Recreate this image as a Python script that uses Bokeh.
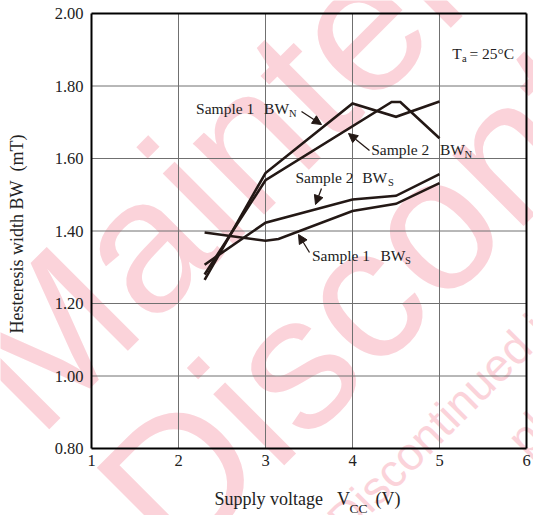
import math

from bokeh.plotting import figure
from bokeh.models import (Label, Arrow, NormalHead, Range1d, FixedTicker,
                          NumeralTickFormatter, LinearAxis)
from bokeh.embed import file_html
from bokeh.resources import INLINE

# ---- measured curves: supply voltage (V) vs hysteresis width (mT) ----
vcc_s1_bwn = [2.3, 3.0, 4.0, 4.5, 5.0]
bw_s1_bwn = [1.265, 1.560, 1.752, 1.715, 1.757]

vcc_s2_bwn = [2.3, 3.0, 4.45, 4.55, 5.0]
bw_s2_bwn = [1.280, 1.540, 1.756, 1.756, 1.656]

vcc_s2_bws = [2.3, 3.0, 4.0, 4.5, 5.0]
bw_s2_bws = [1.307, 1.423, 1.487, 1.497, 1.557]

vcc_s1_bws = [2.3, 3.0, 3.15, 4.0, 4.5, 5.0]
bw_s1_bws = [1.396, 1.373, 1.378, 1.455, 1.475, 1.532]

x_ticks = [1, 2, 3, 4, 5, 6]
y_ticks = [0.80, 1.00, 1.20, 1.40, 1.60, 1.80, 2.00]

# ---- page geometry: the plot box sits inside a full-page canvas ----
W, H = 533, 515
BL, BR, BT, BB = 91, 526, 13, 448          # plot box edges in page pixels
X0, X1, Y0, Y1 = x_ticks[0], x_ticks[-1], y_ticks[0], y_ticks[-1]
SX = (X1 - X0) / (BR - BL)
SY = (Y1 - Y0) / (BB - BT)


def dx(px):
    """page pixel column -> data x"""
    return X0 + (px - BL) * SX


def dy(py):
    """page pixel row -> data y"""
    return Y0 + (BB - py) * SY


SERIF = "Liberation Serif"
INK = "#231815"
TXT = "#222222"
NB = "\u00a0"

p = figure(width=W, height=H, output_backend="svg", toolbar_location=None,
           x_range=Range1d(dx(0), dx(W)), y_range=Range1d(dy(H), dy(0)),
           min_border=0, x_axis_type=None, y_axis_type=None)
p.background_fill_color = "white"
p.border_fill_color = "white"
p.outline_line_color = None
p.grid.visible = False

# ---- watermark (lowest layer) ----
PINK = "#fbd3da"
ang = math.radians(45)
for px, py, s, size in (
        (66, 468, "Maintenance", "190px"),
        (206, 599, "Discontinued", "190px"),
        (158, 740, "Maintenance/Discontinued includes following four", "46px"),
        (533, 464, "planned maintenance type, maintenance type", "46px")):
    p.add_layout(Label(x=dx(px), y=dy(py), text=s, angle=ang,
                       text_font="Liberation Sans", text_font_size=size,
                       text_color=PINK, level="underlay"))

# ---- grid lines inside the box ----
inner_x = x_ticks[1:-1]
inner_y = y_ticks[1:-1]
p.segment(x0=inner_x, y0=[Y0] * len(inner_x), x1=inner_x, y1=[Y1] * len(inner_x),
          line_color="#707070", line_width=1)
p.segment(x0=[X0] * len(inner_y), y0=inner_y, x1=[X1] * len(inner_y), y1=inner_y,
          line_color="#707070", line_width=1)


# ---- axes pinned to the box edges ----
def box_axis(side, loc, ticks, bounds, labels=True):
    ax = LinearAxis(fixed_location=loc, bounds=bounds,
                    ticker=FixedTicker(ticks=ticks))
    ax.axis_line_color = "black"
    ax.axis_line_width = 2
    ax.major_tick_line_color = None
    ax.minor_tick_line_color = None
    ax.major_tick_out = 0
    ax.major_tick_in = 0
    ax.major_label_text_font = SERIF
    ax.major_label_text_font_size = "16.5px"
    ax.major_label_text_color = TXT if labels else None
    p.add_layout(ax, side)
    return ax


xb = box_axis("below", Y0, x_ticks, (X0, X1))
xb.major_label_standoff = 6
yl = box_axis("left", X0, y_ticks, (Y0, Y1))
yl.formatter = NumeralTickFormatter(format="0.00")
yl.major_label_standoff = 8
box_axis("above", Y1, x_ticks, (X0, X1), labels=False)
box_axis("right", X1, y_ticks, (Y0, Y1), labels=False)

# ---- curves ----
for xs, ys in ((vcc_s1_bwn, bw_s1_bwn), (vcc_s2_bwn, bw_s2_bwn),
               (vcc_s2_bws, bw_s2_bws), (vcc_s1_bws, bw_s1_bws)):
    p.line(xs, ys, line_color=INK, line_width=2.6, line_join="miter")


# ---- text helpers (px, py = left end of the baseline) ----
def txt(px, py, s, size=15.5, angle=0.0):
    lift = 0.39 * size
    if angle:
        px, py = px - lift, py
    else:
        py = py - lift
    p.add_layout(Label(x=dx(px), y=dy(py), text=s, text_font=SERIF,
                       text_font_size=f"{size}px", text_color=TXT,
                       text_baseline="alphabetic", angle=angle))


def arrow(tx, ty, hx, hy):
    p.add_layout(Arrow(x_start=dx(tx), y_start=dy(ty), x_end=dx(hx), y_end=dy(hy),
                       line_color=INK, line_width=1.3,
                       end=NormalHead(size=9, fill_color=INK, line_color=INK)))


SUB = 10.5

# Sample 1 BW_N
txt(195.6, 114, "Sample 1")
txt(263.6, 114, "BW")
txt(288.5, 117, "N", SUB)
arrow(301, 111, 321, 124)

# Sample 2 BW_N
txt(370.7, 155, "Sample 2")
txt(439.5, 155, "BW")
txt(464.0, 158, "N", SUB)
arrow(369, 150, 348, 133)

# Sample 2 BW_S
txt(295.0, 183, "Sample 2")
txt(361.7, 183, "BW")
txt(387.5, 186, "S", SUB)
arrow(321, 188, 315, 204)

# Sample 1 BW_S
txt(311.5, 261, "Sample 1")
txt(380.0, 261, "BW")
txt(404.5, 264, "S", SUB)
arrow(309, 252, 298, 234)

# ambient temperature
txt(451.7, 59, "T")
txt(461.5, 62, "a", SUB)
txt(469.0, 59, "= 25°C")

# axis titles
txt(214, 506, "Supply voltage", 18)
txt(336.5, 506, "V", 18)
txt(349, 513, "CC", 13.5)
txt(375, 506, "(V)", 18)
txt(24, 333, f"Hesteresis width BW{NB}{NB}(mT)", 18, angle=math.pi / 2)

open("out.html", "w").write(file_html(p, INLINE))
